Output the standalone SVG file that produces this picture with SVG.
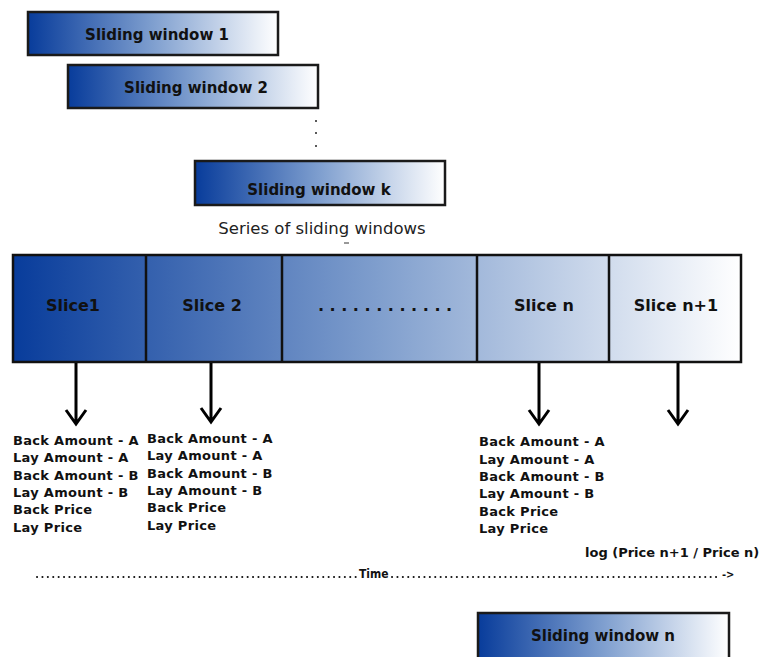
<svg xmlns="http://www.w3.org/2000/svg" width="760" height="657" viewBox="0 0 760 657">
<defs>
<linearGradient id="gw" x1="0" y1="0" x2="1" y2="0">
<stop offset="0" stop-color="#083c9b"/>
<stop offset="0.5" stop-color="#7f9fcf"/>
<stop offset="1" stop-color="#ffffff"/>
</linearGradient>
<linearGradient id="gb" gradientUnits="userSpaceOnUse" x1="13" y1="0" x2="741" y2="0">
<stop offset="0" stop-color="#083c9b"/>
<stop offset="0.5" stop-color="#7f9ecd"/>
<stop offset="1" stop-color="#ffffff"/>
</linearGradient>
</defs>
<style>
.win{fill:url(#gw);stroke:#1a1a1a;stroke-width:2.5}
.wt{font-family:"DejaVu Sans",sans-serif;font-weight:bold;font-size:15px;fill:#111;text-anchor:middle}
.st{font-family:"DejaVu Sans",sans-serif;font-weight:bold;font-size:16px;fill:#111;text-anchor:middle}
.lt{font-family:"DejaVu Sans",sans-serif;font-weight:bold;font-size:13px;letter-spacing:0.3px;fill:#111}
.cap{font-family:"DejaVu Sans",sans-serif;font-size:16.5px;fill:#222;text-anchor:middle}
.arr{stroke:#000;stroke-width:3;fill:none}
.div{stroke:#111;stroke-width:2.5}
</style>
<rect width="760" height="657" fill="#fff"/>

<g id="window1">
<rect class="win" x="28" y="12" width="250" height="43"/>
<text class="wt" x="157" y="40">Sliding window 1</text>
</g>
<g id="window2">
<rect class="win" x="68" y="65" width="250" height="43"/>
<text class="wt" x="196" y="93">Sliding window 2</text>
</g>
<g id="window-dots">
<circle cx="316" cy="121" r="1" fill="#222"/>
<circle cx="316" cy="133" r="1" fill="#222"/>
<circle cx="316" cy="146" r="1" fill="#222"/>
</g>
<g id="windowk">
<rect class="win" x="195" y="161" width="250" height="44"/>
<text class="wt" x="319" y="195">Sliding window k</text>
</g>
<g id="caption">
<text class="cap" x="322" y="234">Series of sliding windows</text>
<line x1="344" y1="243" x2="349" y2="243" stroke="#333" stroke-width="1"/>
</g>

<g id="slices">
<rect x="13" y="255" width="728" height="107" fill="url(#gb)" stroke="#111" stroke-width="2.5"/>
<line class="div" x1="146" y1="255" x2="146" y2="362"/>
<line class="div" x1="282" y1="255" x2="282" y2="362"/>
<line class="div" x1="477" y1="255" x2="477" y2="362"/>
<line class="div" x1="609" y1="255" x2="609" y2="362"/>
<g id="slice1"><text class="st" x="73" y="311">Slice1</text></g>
<g id="slice2"><text class="st" x="212" y="311">Slice 2</text></g>
<g id="slicedots"><text class="st" x="385" y="311">. . . . . . . . . . . .</text></g>
<g id="slicen"><text class="st" x="544" y="311">Slice n</text></g>
<g id="slicen1"><text class="st" x="676" y="311">Slice n+1</text></g>
</g>

<g id="connectors">
<path class="arr" d="M76,363 V424 M66,410 L76,424 L86,410"/>
<path class="arr" d="M211,363 V422 M201,408 L211,422 L221,408"/>
<path class="arr" d="M539,363 V424 M529,410 L539,424 L549,410"/>
<path class="arr" d="M678,363 V424 M668,410 L678,424 L688,410"/>
</g>

<g id="list1">
<text class="lt" x="13" y="445">Back Amount - A</text>
<text class="lt" x="13" y="462">Lay Amount - A</text>
<text class="lt" x="13" y="480">Back Amount - B</text>
<text class="lt" x="13" y="497">Lay Amount - B</text>
<text class="lt" x="13" y="514">Back Price</text>
<text class="lt" x="13" y="532">Lay Price</text>
</g>
<g id="list2">
<text class="lt" x="147" y="443">Back Amount - A</text>
<text class="lt" x="147" y="460">Lay Amount - A</text>
<text class="lt" x="147" y="478">Back Amount - B</text>
<text class="lt" x="147" y="495">Lay Amount - B</text>
<text class="lt" x="147" y="512">Back Price</text>
<text class="lt" x="147" y="530">Lay Price</text>
</g>
<g id="list3">
<text class="lt" x="479" y="446">Back Amount - A</text>
<text class="lt" x="479" y="464">Lay Amount - A</text>
<text class="lt" x="479" y="481">Back Amount - B</text>
<text class="lt" x="479" y="498">Lay Amount - B</text>
<text class="lt" x="479" y="516">Back Price</text>
<text class="lt" x="479" y="533">Lay Price</text>
</g>
<g id="logtext">
<text class="lt" x="585" y="557" style="letter-spacing:0">log (Price n+1 / Price n)</text>
</g>

<g id="timeline">
<line x1="37" y1="577" x2="357" y2="577" stroke="#111" stroke-width="2" stroke-linecap="round" stroke-dasharray="0.1 5.3"/>
<text x="359" y="578" font-family="'DejaVu Sans Condensed',sans-serif" font-weight="bold" font-size="12" fill="#111">Time</text>
<line x1="392" y1="577" x2="720" y2="577" stroke="#111" stroke-width="2" stroke-linecap="round" stroke-dasharray="0.1 5.3"/>
<text x="722" y="578" font-family="'DejaVu Sans Condensed',sans-serif" font-weight="bold" font-size="11" fill="#111">-&gt;</text>
</g>

<g id="windown">
<rect class="win" x="478" y="613" width="251" height="46"/>
<text class="wt" x="603" y="641">Sliding window n</text>
</g>
</svg>
